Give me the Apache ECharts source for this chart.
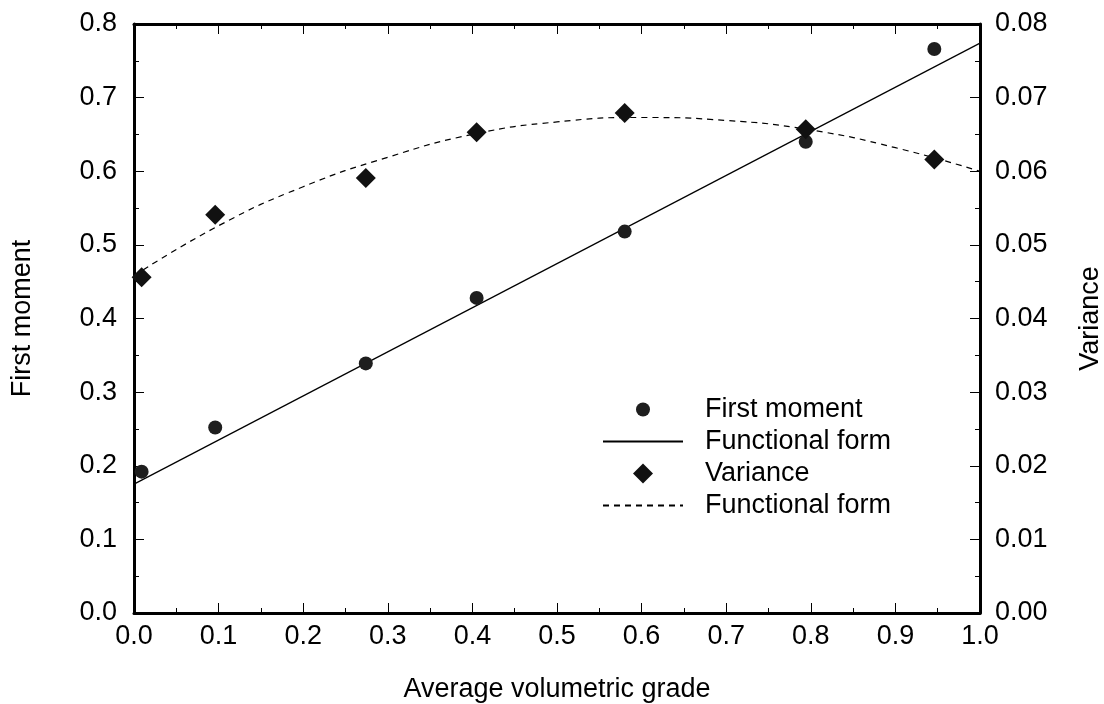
<!DOCTYPE html>
<html>
<head>
    <meta charset="utf-8">
    <title>First moment and variance</title>
    <script src="https://cdn.jsdelivr.net/npm/echarts@6/dist/echarts.min.js"></script>
    <style type="text/css">
        html, body { margin: 0; padding: 0; background: #fff; }
        #chart { width: 1104px; height: 704px; }
    </style>
</head>
<body>
<div id="chart"></div>
<script>
    // measured points (shared x for both series)
    var grade = [0.009, 0.096, 0.274, 0.405, 0.580, 0.794, 0.946];
    var firstMoment = [0.192, 0.252, 0.339, 0.428, 0.518, 0.640, 0.766];
    var variance = [0.0456, 0.0541, 0.0591, 0.0653, 0.0679, 0.0657, 0.0616];

    // fitted curves
    var fitLineX = [0, 1];
    var fitLineY = [0.175, 0.774];
    var fitVarX = [0, 0.1, 0.2, 0.3, 0.4, 0.5, 0.6, 0.7, 0.8, 0.9, 1.0];
    var fitVarY = [0.0458, 0.0526, 0.0579, 0.0619, 0.0650, 0.0667, 0.0673, 0.0669, 0.0656, 0.0632, 0.0600];

    var legendText = {
        'First moment': 'First moment',
        'fit1': 'Functional form',
        'Variance': 'Variance',
        'fit2': 'Functional form'
    };

    function pairs(xs, ys) {
        return xs.map(function (x, i) { return [x, ys[i]]; });
    }

    var font = 'Liberation Sans, Arial, sans-serif';
    var fs = 27;
    var chart = echarts.init(document.getElementById('chart'));

    var tick = {show: true, inside: true, length: 10, lineStyle: {color: '#000', width: 1}};
    var minor = {show: true, splitNumber: 2, length: 5, lineStyle: {color: '#000', width: 1}};
    var axLine = {show: true, onZero: false, lineStyle: {color: '#000', width: 3}};
    var nameStyle = {fontFamily: font, fontSize: fs, color: '#000'};

    // legend icons: path bbox padded to 20x20 so marks keep their size
    var dotIcon = 'path://M-10,-10L-10,-10M10,10L10,10M7,0A7,7 0 1 1 -7,0A7,7 0 1 1 7,0Z';
    var diamondIcon = 'path://M0,-10L10,0L0,10L-10,0Z';

    var option = {
        backgroundColor: '#fff',
        animation: false,
        grid: {left: 134, right: 124, top: 24, bottom: 91, outerBoundsMode: 'none'},
        legend: {
            orient: 'vertical',
            left: 597,
            top: 391,
            itemWidth: 80,
            itemHeight: 20,
            itemGap: 5,
            symbolKeepAspect: true,
            textStyle: {fontFamily: font, fontSize: fs, lineHeight: 27, color: '#000', padding: [0, 0, 0, 17]},
            formatter: function (name) { return legendText[name]; },
            data: [
                {name: 'First moment', icon: dotIcon},
                {name: 'fit1'},
                {name: 'Variance', icon: diamondIcon},
                {name: 'fit2'}
            ]
        },
        xAxis: [{
            type: 'value', min: 0, max: 1, interval: 0.1,
            name: 'Average volumetric grade', nameLocation: 'middle', nameGap: 63,
            nameTextStyle: nameStyle,
            axisLine: axLine, axisTick: tick, minorTick: minor, splitLine: {show: false},
            axisLabel: {fontFamily: font, fontSize: fs, color: '#000', margin: 10,
                formatter: function (v) { return v.toFixed(1); }}
        }, {
            type: 'value', min: 0, max: 1, interval: 0.1, position: 'top',
            axisLine: axLine, axisTick: tick, minorTick: minor, splitLine: {show: false},
            axisLabel: {show: false}
        }],
        yAxis: [{
            type: 'value', min: 0, max: 0.8, interval: 0.1,
            name: 'First moment', nameLocation: 'middle', nameGap: 98,
            nameTextStyle: nameStyle,
            axisLine: axLine, axisTick: tick, minorTick: minor, splitLine: {show: false},
            axisLabel: {fontFamily: font, fontSize: fs, color: '#000', margin: 17,
                formatter: function (v) { return v.toFixed(1); }}
        }, {
            type: 'value', min: 0, max: 0.08, interval: 0.01, position: 'right',
            name: 'Variance', nameLocation: 'middle', nameGap: 97,
            nameTextStyle: nameStyle,
            axisLine: axLine, axisTick: tick, minorTick: minor, splitLine: {show: false},
            axisLabel: {fontFamily: font, fontSize: fs, color: '#000', margin: 15,
                formatter: function (v) { return v.toFixed(2); }}
        }],
        series: [{
            name: 'fit1', type: 'line', xAxisIndex: 0, yAxisIndex: 0,
            data: pairs(fitLineX, fitLineY), symbol: 'none',
            itemStyle: {color: 'rgba(0,0,0,0)', borderWidth: 0},
            lineStyle: {color: '#000', width: 1.2}, z: 2
        }, {
            name: 'fit2', type: 'line', xAxisIndex: 0, yAxisIndex: 1,
            data: pairs(fitVarX, fitVarY), symbol: 'none', smooth: true,
            itemStyle: {color: 'rgba(0,0,0,0)', borderWidth: 0},
            lineStyle: {color: '#000', width: 1.2, type: [6, 5]}, z: 2
        }, {
            name: 'First moment', type: 'scatter', xAxisIndex: 0, yAxisIndex: 0,
            data: pairs(grade, firstMoment), symbol: 'circle', symbolSize: 14,
            itemStyle: {color: '#1e1e1e', opacity: 1}, z: 3
        }, {
            name: 'Variance', type: 'scatter', xAxisIndex: 0, yAxisIndex: 1,
            data: pairs(grade, variance), symbol: 'diamond', symbolSize: 20,
            itemStyle: {color: '#111', opacity: 1}, z: 3
        }]
    };
    chart.setOption(option);
</script>
</body>
</html>
